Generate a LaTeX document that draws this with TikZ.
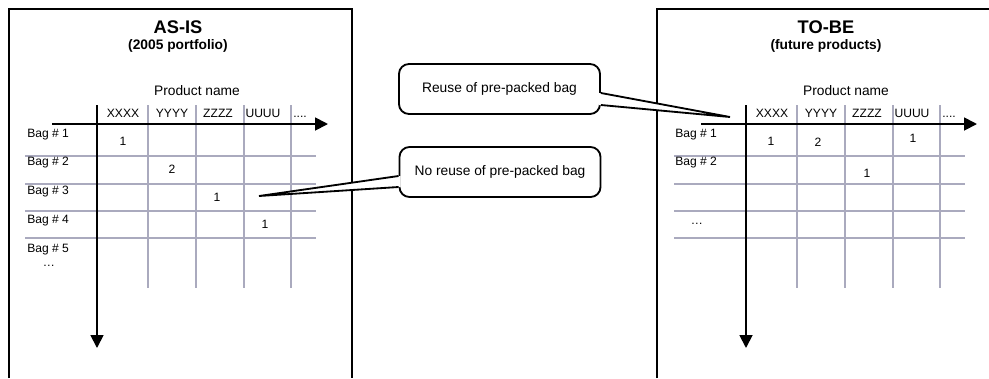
\documentclass[tikz,border=0pt]{standalone}
\usepackage{fontspec}
\setmainfont{Liberation Sans}
\usetikzlibrary{arrows.meta,calc}
\definecolor{gridgray}{RGB}{170,170,190}

\begin{document}
\begin{tikzpicture}[x = 0.025cm, y = -0.025cm,
	frame/.style = {line width = 1.3pt},
	axis/.style = {line width = 1.3pt, -{Triangle[length = 0.32cm, width = 0.32cm]}},
	gridline/.style = {line width = 1.7pt, color = gridgray},
	cell/.style = {font = \fontsize{8.6}{10}\selectfont, inner sep = 0pt},
	label/.style = {font = \fontsize{9.8}{12}\selectfont, inner sep = 0pt},
	bubble/.style = {draw, line width = 1.3pt, fill = white, rounded corners = 0.25cm,
		minimum width = 5.025cm, minimum height = 1.25cm, font = \fontsize{9.8}{12}\selectfont}]
	\useasboundingbox (0,0) rectangle (989,378);
	\draw [frame] (9,378) -- (9,9) -- (352,9) -- (352,378);
	\draw [frame] (657,378) -- (657,9) -- (989,9);
	\foreach \side/\dx in {L/0, R/649} {
		\foreach \x in {148,196,244,291}
		\draw [gridline] (\x+\dx,105) -- (\x+\dx,288);
		\foreach \y in {156,184,211,238}
		\draw [gridline] (25+\dx,\y) -- (316+\dx,\y);
		\draw [axis] (52+\dx,124) -- (328+\dx,124);
		\draw [axis] (97+\dx,105) -- (97+\dx,348);
		\foreach \t/\x [count=\i] in {XXXX/123, YYYY/172, ZZZZ/218, UUUU/263}
		\node (\side col\i) at (\x+\dx,113) [cell] {\t};
		\node (\side colmore) at (300+\dx,117) [cell, anchor = base] {....};
		\node (\side prod) at (197+\dx,91) [label] {Product name};
	}
	\node (asis) at (178,27) [font = \fontsize{13}{15}\selectfont\bfseries] {AS-IS};
	\node (asissub) at (178,46) [label, font = \fontsize{9.8}{12}\selectfont\bfseries] {(2005 portfolio)};
	\node (tobe) at (826,27) [font = \fontsize{13}{15}\selectfont\bfseries] {TO-BE};
	\node (tobesub) at (826,46) [label, font = \fontsize{9.8}{12}\selectfont\bfseries] {(future products)};
	\foreach \i/\y in {1/135,2/163,3/192,4/221,5/250}
	\node (Lbag\i) at (27,\y) [cell, anchor = west] {Bag \# \i};
	\node (Lbagmore) at (49,266) [cell] {\dots};
	\foreach \i/\y in {1/135,2/163}
	\node (Rbag\i) at (675,\y) [cell, anchor = west] {Bag \# \i};
	\node (Rbagmore) at (697,224) [cell] {\dots};
	\foreach \v/\x/\y [count=\i] in {1/123/141, 2/172/169, 1/217/197, 1/265/224}
	\node (Lval\i) at (\x,\y) [cell] {\v};
	\foreach \v/\x/\y [count=\i] in {1/771/141, 2/818/142, 1/913/138, 1/867/173}
	\node (Rval\i) at (\x,\y) [cell] {\v};
	\node (reuse) at (499.5,89) [bubble] {Reuse of pre-packed bag};
	\coordinate (reusetip) at (730,117);
	\fill [white] ($(reuse.east)+(-2,4)$) -- (reusetip) -- ($(reuse.east)+(-2,16)$) -- cycle;
	\draw [line width = 1.3pt] ($(reuse.east)+(0,4)$) -- (reusetip) -- ($(reuse.east)+(0,16)$);
	\node (noreuse) at (500,172) [bubble] {No reuse of pre-packed bag};
	\coordinate (noreusetip) at (259,196);
	\fill [white] ($(noreuse.west)+(2,4)$) -- (noreusetip) -- ($(noreuse.west)+(2,15)$) -- cycle;
	\draw [line width = 1.3pt] ($(noreuse.west)+(0,4)$) -- (noreusetip) -- ($(noreuse.west)+(0,15)$);
\end{tikzpicture}
\end{document}
